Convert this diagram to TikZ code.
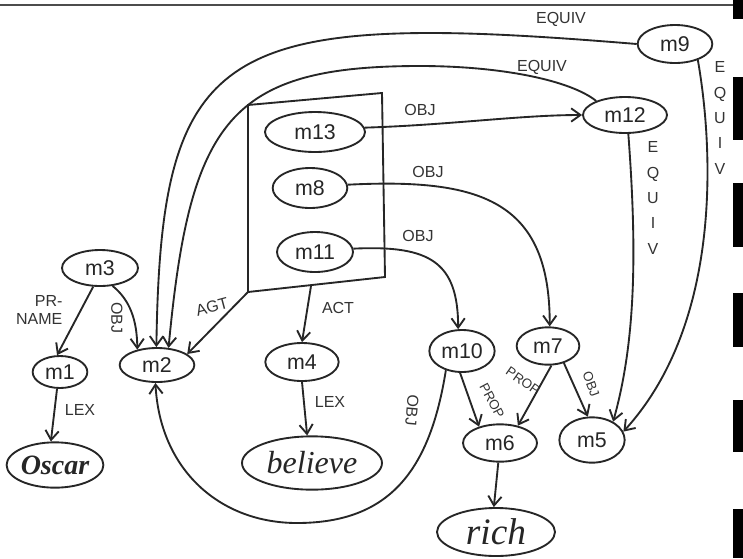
\documentclass[tikz,border=0pt]{standalone}
\usepackage{fontspec}
\setmainfont{Liberation Sans}
\newfontfamily\handserif{Liberation Serif}
\usetikzlibrary{shapes.geometric,arrows.meta}
\begin{document}
\begin{tikzpicture}[x=0.75pt,y=-0.75pt,
  ink/.style={draw=black!85, line width=1.4pt},
  nd/.style={ellipse, ink, inner sep=0pt, font=\fontsize{16}{18}\selectfont, text=black!85},
  arr/.style={ink, -{Straight Barb[length=7pt,width=10pt]}},
  lab/.style={font=\fontsize{12}{14}\selectfont, text=black!80, inner sep=1pt},
  slab/.style={lab, font=\fontsize{10}{12}\selectfont, inner sep=0pt},
  vlab/.style={lab, align=center, font=\fontsize{12}{19}\selectfont},
  word/.style={nd, font=\handserif\itshape\fontsize{24}{26}\selectfont}
]
\useasboundingbox (0,0) rectangle (743,558);
\fill[white] (0,0) rectangle (743,558);
% scan border
\draw[black!70, line width=0.8pt] (0,5) -- (735,5);
\foreach \a/\b in {0/19,77/140,183/247,293/347,400/452,509/558}
  \fill[black] (733,\a) rectangle (743,\b);

% nodes
\node[nd, minimum width=56pt, minimum height=28.5pt] (m9) at (675,44) {m9};
\node[nd, minimum width=63pt, minimum height=27pt] (m12) at (625,115) {m12};
\node[nd, minimum width=75pt, minimum height=30pt] (m13) at (315,132) {m13};
\node[nd, minimum width=56pt, minimum height=30pt] (m8) at (310,188) {m8};
\node[nd, minimum width=57pt, minimum height=30pt] (m11) at (315,252) {m11};
\node[nd, minimum width=55pt, minimum height=28.5pt] (m4) at (302,362) {m4};
\node[word, minimum width=105pt, minimum height=40pt] (believe) at (312,463) {believe};
\node[nd, minimum width=57pt, minimum height=27pt] (m3) at (100,268) {m3};
\node[nd, minimum width=41pt, minimum height=24pt] (m1) at (60,372) {m1};
\node[nd, minimum width=56pt, minimum height=25.5pt] (m2) at (157,365) {m2};
\node[word, font=\handserif\bfseries\itshape\fontsize{21}{23}\selectfont, minimum width=67.5pt, minimum height=34pt] (Oscar) at (55,465) {Oscar};
\node[nd, minimum width=49pt, minimum height=31.5pt] (m10) at (462,351) {m10};
\node[nd, minimum width=47pt, minimum height=28pt] (m7) at (548,346) {m7};
\node[nd, minimum width=55.5pt, minimum height=28pt] (m6) at (500,443) {m6};
\node[nd, minimum width=49pt, minimum height=34pt] (m5) at (592,440) {m5};
\node[word, font=\handserif\itshape\fontsize{28}{30}\selectfont, minimum width=88.5pt, minimum height=36pt] (rich) at (496,532) {rich};

% context box
\coordinate (bTL) at (248,105);
\coordinate (bTR) at (382,93);
\coordinate (bBR) at (385,277);
\coordinate (bBL) at (248,292);
\coordinate (bact) at (311,286);
\draw[ink] (bTL) -- (bTR) -- (bBR) -- (bBL) -- cycle;

% connectors
\draw[arr] (m9.180) .. controls (540,36) and (480,33) .. (430,33)
           .. controls (200,33) and (160,100) .. (m2.92);
\draw[arr] (m12.154) .. controls (570,80) and (500,66) .. (420,66)
           .. controls (230,66) and (190,120) .. (m2.56);
\draw[arr] (m13.5) .. controls (450,125) and (520,115) .. (m12.180);
\draw[arr] (m8.5) .. controls (480,178) and (550,200) .. (m7.85);
\draw[arr] (m11.5) .. controls (430,245) and (458,262) .. (m10.100);
\draw[arr] (bBL) -- (m2.20);
\draw[arr] (bact) -- (m4.north);
\draw[arr] (m4.south) -- (believe.100);
\draw[arr] (m3.-110) -- (m1.100);
\draw[arr] (m3.-55) .. controls (130,300) and (137,320) .. (m2.142);
\draw[arr] (m1.-100) -- (Oscar.100);
\draw[arr] (m10.-130) .. controls (430,470) and (390,523) .. (297,523)
           .. controls (220,523) and (160,470) .. (m2.-95);
\draw[arr] (m10.-95) -- (m6.142);
\draw[arr] (m7.-80) -- (m6.44);
\draw[arr] (m7.-47) -- (m5.100);
\draw[arr] (m6.-95) -- (rich.95);
\draw[arr] (m12.-80) .. controls (637,250) and (636,340) .. (m5.41);
\draw[arr] (m9.-35) .. controls (712,140) and (725,320) .. (m5.15);

% labels
\node[lab] (lEq1) at (561,19) {EQUIV};
\node[lab] (lEq2) at (542,67) {EQUIV};
\node[lab] (lObj1) at (420,110) {OBJ};
\node[lab] (lObj2) at (428,172) {OBJ};
\node[lab] (lObj3) at (418,236) {OBJ};
\node[lab] (lAct) at (338,308) {ACT};
\node[lab, rotate=15] (lAgt) at (212,307) {AGT};
\node[lab, align=right, anchor=east] (lPr) at (64,310) {PR-\\NAME};
\node[lab, rotate=-90] (lObj4) at (117,318) {OBJ};
\node[lab] (lLex1) at (80,410) {LEX};
\node[lab] (lLex2) at (330,402) {LEX};
\node[lab, rotate=-95] (lObj5) at (412,410) {OBJ};
\node[slab, rotate=-62] (lProp1) at (492,401) {PROP};
\node[slab, rotate=-35] (lProp2) at (523,381) {PROP};
\node[slab, rotate=-70] (lObj6) at (591,384) {OBJ};
\node[vlab] (lEq3) at (653,198) {E\\Q\\U\\I\\V};
\node[vlab] (lEq4) at (720,118) {E\\Q\\U\\I\\V};
\end{tikzpicture}
\end{document}
